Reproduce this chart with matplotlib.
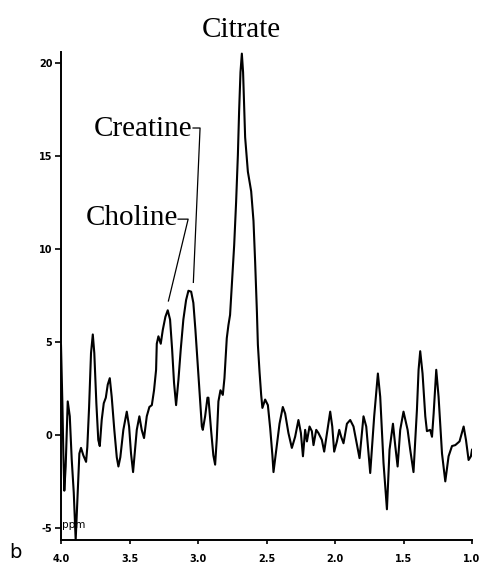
import numpy as np
import matplotlib
matplotlib.use("Agg")
import matplotlib.pyplot as plt

# chemical shift (ppm) and signal intensity
ppm = [
    4.000, 3.990, 3.983, 3.976, 3.966, 3.951, 3.936, 3.922, 3.907, 3.893,
    3.878, 3.866, 3.854, 3.837, 3.817, 3.808, 3.795, 3.781, 3.768, 3.757,
    3.742, 3.728, 3.717, 3.703, 3.688, 3.673, 3.659, 3.644, 3.630, 3.611,
    3.593, 3.581, 3.567, 3.545, 3.520, 3.503, 3.489, 3.474, 3.447, 3.428,
    3.411, 3.394, 3.374, 3.355, 3.337, 3.321, 3.306, 3.301, 3.289, 3.272,
    3.257, 3.238, 3.221, 3.204, 3.189, 3.175, 3.160, 3.143, 3.126, 3.107,
    3.087, 3.070, 3.050, 3.034, 3.019, 3.004, 2.990, 2.972, 2.965, 2.948,
    2.931, 2.924, 2.904, 2.888, 2.875, 2.863, 2.851, 2.836, 2.819, 2.807,
    2.790, 2.778, 2.766, 2.753, 2.736, 2.722, 2.709, 2.700, 2.690, 2.680,
    2.671, 2.656, 2.636, 2.612, 2.595, 2.583, 2.570, 2.563, 2.551, 2.539,
    2.530, 2.510, 2.490, 2.473, 2.457, 2.449, 2.425, 2.405, 2.381, 2.364,
    2.340, 2.315, 2.291, 2.267, 2.249, 2.234, 2.218, 2.205, 2.186, 2.169,
    2.157, 2.137, 2.121, 2.096, 2.079, 2.055, 2.035, 2.020, 2.006, 1.986,
    1.969, 1.955, 1.938, 1.913, 1.889, 1.865, 1.821, 1.792, 1.772, 1.743,
    1.714, 1.687, 1.670, 1.646, 1.621, 1.602, 1.577, 1.560, 1.543, 1.524,
    1.500, 1.470, 1.451, 1.427, 1.402, 1.390, 1.378, 1.361, 1.341, 1.329,
    1.305, 1.292, 1.280, 1.261, 1.244, 1.219, 1.195, 1.171, 1.146, 1.122,
    1.091, 1.061, 1.044, 1.025, 1.008, 1.000,
]
signal = [
    4.8, 1.7, -1.0, -3.0, -1.7, 1.8, 1.0, -1.3, -3.1, -5.65,
    -3.1, -1.0, -0.7, -1.1, -1.45, -0.65, 1.5, 4.4, 5.4, 4.4,
    1.7, -0.27, -0.6, 0.8, 1.7, 2.0, 2.7, 3.05, 2.05, 0.27,
    -1.2, -1.7, -1.2, 0.27, 1.25, 0.45, -1.0, -2.0, 0.27, 1.0,
    0.27, -0.17, 1.0, 1.5, 1.6, 2.4, 3.5, 4.9, 5.3, 4.9,
    5.65, 6.35, 6.7, 6.2, 4.6, 2.8, 1.6, 2.95, 4.6, 6.2,
    7.25, 7.75, 7.7, 7.1, 5.65, 4.0, 2.4, 0.45, 0.27, 1.0,
    2.0, 2.0, 0.2, -1.1, -1.6, -0.2, 1.8, 2.4, 2.15, 3.05,
    5.2, 5.9, 6.45, 8.05, 10.2, 12.5, 15.05, 17.4, 19.5, 20.5,
    19.5, 16.0, 14.15, 13.1, 11.5, 9.3, 6.6, 4.85, 3.4, 2.15,
    1.45, 1.9, 1.6, 0.35, -1.1, -2.0, -0.6, 0.6, 1.5, 1.15,
    0.1, -0.7, -0.1, 0.8, 0.1, -1.15, 0.27, -0.35, 0.45, 0.2,
    -0.55, 0.27, 0.1, -0.27, -0.9, 0.27, 1.25, 0.45, -0.9, -0.35,
    0.27, -0.1, -0.45, 0.6, 0.8, 0.45, -1.25, 1.0, 0.45, -2.05,
    1.0, 3.3, 2.05, -1.5, -4.0, -0.8, 0.6, -0.6, -1.7, 0.27,
    1.25, 0.27, -0.8, -2.0, 1.35, 3.5, 4.5, 3.3, 1.0, 0.2,
    0.27, -0.1, 1.15, 3.5, 2.05, -1.0, -2.5, -1.15, -0.6, -0.55,
    -0.35, 0.45, -0.27, -1.35, -1.15, -0.8,
]

x_ticks = [4.0, 3.5, 3.0, 2.5, 2.0, 1.5, 1.0]
y_ticks = [20, 15, 10, 5, 0, -5]

# peak labels: text, text anchor (ppm, value), leader line points
labels = [
    ("Choline", (3.145, 11.3), [(3.145, 11.6), (3.072, 11.6), (3.216, 7.2)]),
    ("Creatine", (3.043, 16.05), [(3.036, 16.5), (2.985, 16.5), (3.034, 8.2)]),
]

fig = plt.figure(figsize=(4.85, 5.65), dpi=100)
ax = fig.add_axes([0.1258, 0.0443, 0.8474, 0.8641])

ax.plot(ppm, signal, color="black", linewidth=1.5)

ax.set_xlim(4.0, 1.0)
ax.set_ylim(-5.65, 20.6)
ax.set_xticks(x_ticks)
ax.set_xticklabels([f"{v:.1f}" for v in x_ticks])
ax.set_yticks(y_ticks)
ax.set_yticklabels([str(v) for v in y_ticks])

for side in ("top", "right"):
    ax.spines[side].set_visible(False)
for side in ("left", "bottom"):
    ax.spines[side].set_linewidth(1.4)

ax.tick_params(axis="x", direction="out", length=3, width=1.2, pad=7, labelsize=7)
ax.tick_params(axis="y", direction="out", length=4.3, width=1.2, pad=2, labelsize=7)
for lab in ax.get_xticklabels() + ax.get_yticklabels():
    lab.set_fontweight("bold")

ax.text(3.99, -4.85, "ppm", fontsize=7.5, ha="left", va="center")

serif = "Liberation Serif"
for name, (tx, ty), pts in labels:
    ax.text(tx, ty, name, family=serif, fontsize=21, ha="right", va="baseline")
    xs, ys = zip(*pts)
    ax.plot(xs, ys, color="black", linewidth=0.9, clip_on=False)

fig.text(0.497, 0.9345, "Citrate", family=serif, fontsize=21, ha="center", va="baseline")
fig.text(0.019, 0.0124, "b", fontsize=14, ha="left", va="baseline")

fig.savefig("out.png", dpi=100)
